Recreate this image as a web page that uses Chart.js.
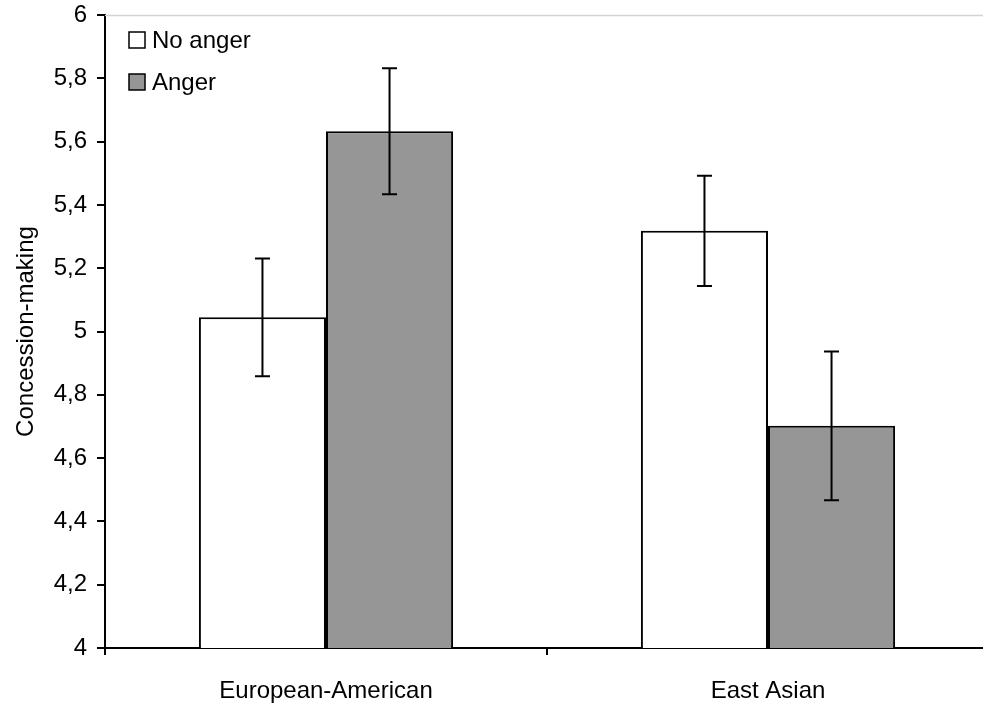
<!DOCTYPE html>
<html>
<head>
<meta charset="utf-8">
<script src="https://cdn.jsdelivr.net/npm/chart.js@4/dist/chart.umd.min.js"></script>
<style>
  html, body { margin: 0; padding: 0; background: #fff; overflow: hidden; }
  #wrap { position: relative; width: 990px; height: 706px; }
</style>
</head>
<body>
<div id="wrap"><canvas id="c"></canvas></div>
<script>
// Group means and standard errors for concession-making
const categories = ['European-American', 'East Asian'];
const seriesNames = ['No anger', 'Anger'];
const noAnger = [5.045, 5.318];
const anger = [5.633, 4.702];
const noAngerErr = [0.186, 0.174];
const angerErr = [0.199, 0.235];
const yTickLabels = ['4', '4,2', '4,4', '4,6', '4,8', '5', '5,2', '5,4', '5,6', '5,8', '6'];

const FONT = 'Liberation Sans, Arial, sans-serif';
const FS = 24;

// Vertical error bars with caps, centred on each bar
const errorBars = {
  id: 'errorBars',
  afterDatasetsDraw(chart) {
    const ctx = chart.ctx;
    const y = chart.scales.y;
    ctx.save();
    ctx.strokeStyle = '#000';
    ctx.lineWidth = 2;
    chart.data.datasets.forEach((ds, i) => {
      const meta = chart.getDatasetMeta(i);
      meta.data.forEach((bar, j) => {
        const v = ds.data[j], e = ds.errors[j];
        const top = y.getPixelForValue(v + e);
        const bot = y.getPixelForValue(v - e);
        const x = bar.x;
        ctx.beginPath();
        ctx.moveTo(x, top); ctx.lineTo(x, bot);
        ctx.moveTo(x - 7.5, top); ctx.lineTo(x + 7.5, top);
        ctx.moveTo(x - 7.5, bot); ctx.lineTo(x + 7.5, bot);
        ctx.stroke();
      });
    });
    ctx.restore();
  }
};

// Thin grey frame line along the top of the plot area
const plotFrame = {
  id: 'plotFrame',
  beforeDatasetsDraw(chart) {
    const a = chart.chartArea, ctx = chart.ctx;
    ctx.save();
    ctx.strokeStyle = '#d4d4d4';
    ctx.lineWidth = 1.5;
    ctx.beginPath();
    ctx.moveTo(a.left, a.top + 0.5);
    ctx.lineTo(a.right, a.top + 0.5);
    ctx.stroke();
    ctx.restore();
  }
};

// Legend drawn inside the plot area, stacked vertically
const innerLegend = {
  id: 'innerLegend',
  afterDraw(chart) {
    const ctx = chart.ctx, a = chart.chartArea;
    ctx.save();
    ctx.font = FS + 'px ' + FONT;
    ctx.textBaseline = 'middle';
    ctx.textAlign = 'left';
    chart.data.datasets.forEach((ds, i) => {
      const bx = a.left + 24, by = a.top + 17 + i * 42;
      ctx.fillStyle = ds.backgroundColor;
      ctx.fillRect(bx, by, 16, 16);
      ctx.strokeStyle = '#000';
      ctx.lineWidth = 1.5;
      ctx.strokeRect(bx, by, 16, 16);
      ctx.fillStyle = '#000';
      ctx.fillText(ds.label, bx + 23, by + 9);
    });
    ctx.restore();
  }
};

new Chart(document.getElementById('c'), {
  type: 'bar',
  data: {
    labels: categories,
    datasets: [
      { label: seriesNames[0], data: noAnger, errors: noAngerErr,
        backgroundColor: '#ffffff', borderColor: '#000', borderWidth: 2 },
      { label: seriesNames[1], data: anger, errors: angerErr,
        backgroundColor: '#969696', borderColor: '#000', borderWidth: 2 }
    ]
  },
  options: {
    responsive: true,
    maintainAspectRatio: false,
    animation: false,
    devicePixelRatio: 1,
    layout: { padding: { top: 15, right: 1, left: 0, bottom: 0 } },
    datasets: { bar: { categoryPercentage: 0.575, barPercentage: 1 } },
    plugins: { legend: { display: false }, tooltip: { enabled: false } },
    scales: {
      x: {
        grid: { offset: true, drawOnChartArea: false, drawTicks: true, tickLength: 7, color: '#000', lineWidth: 2 },
        border: { color: '#000', width: 2 },
        ticks: { color: '#000', font: { family: FONT, size: FS }, padding: 22 },
        afterFit(s) { s.height = 58; s.paddingLeft = 0; s.paddingRight = 0; }
      },
      y: {
        min: 4, max: 6,
        grid: { drawOnChartArea: false, drawTicks: true, tickLength: 8, color: '#000', lineWidth: 2 },
        border: { color: '#000', width: 2 },
        ticks: {
          stepSize: 0.2, color: '#000', padding: 10,
          font: { family: FONT, size: FS },
          callback: (v, i) => yTickLabels[i]
        },
        title: { display: true, text: 'Concession-making', color: '#000',
                 font: { family: FONT, size: FS }, padding: { top: 12, bottom: 0 } },
        afterFit(s) { s.width = 105; s.paddingTop = 0; s.paddingBottom = 0; }
      }
    }
  },
  plugins: [plotFrame, errorBars, innerLegend]
});
</script>
</body>
</html>
